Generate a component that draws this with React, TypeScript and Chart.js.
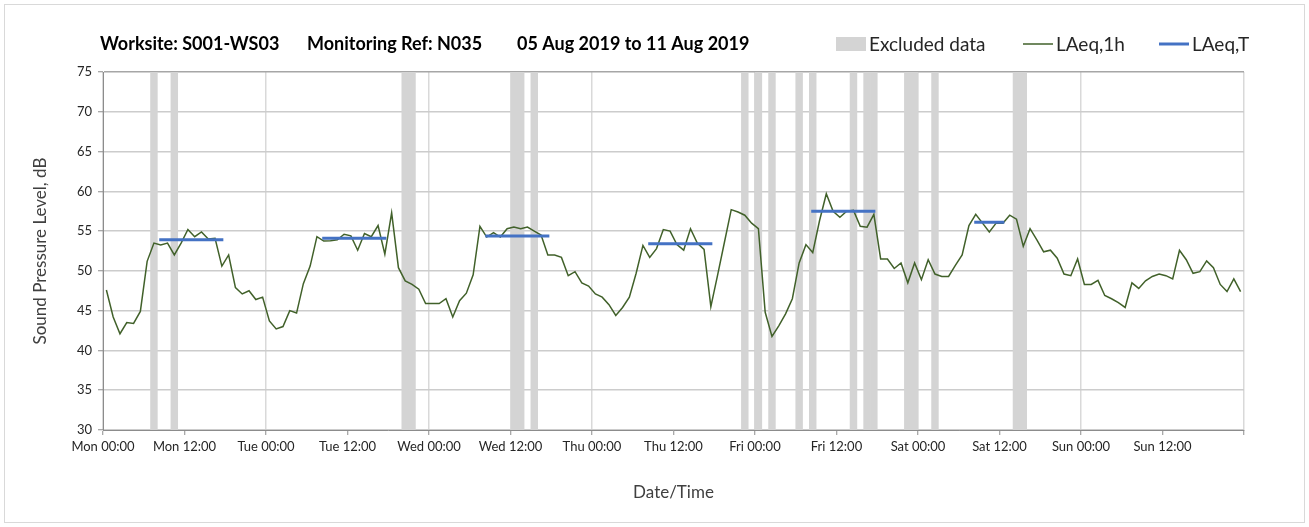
import React, { useEffect, useRef } from 'react';
import { Chart, registerables } from 'chart.js';

Chart.register(...registerables);

// ---- Data ----
const DAY_NAMES = ['Mon', 'Tue', 'Wed', 'Thu', 'Fri', 'Sat', 'Sun'];
const TICK_TIMES = ['00:00', '12:00'];

// Hourly LAeq,1h values (dB), one per hour of each day
const monLAeq1h = [47.6, 44.2, 42.1, 43.5, 43.4, 44.9, 51.2, 53.5, 53.25, 53.5, 52.0, 53.5, 55.2, 54.3, 54.9, 54.0, 54.1, 50.6, 52.0, 47.9, 47.1, 47.5, 46.4, 46.7];
const tueLAeq1h = [43.7, 42.7, 43.0, 45.0, 44.7, 48.4, 50.6, 54.3, 53.75, 53.8, 53.9, 54.6, 54.4, 52.6, 54.7, 54.3, 55.7, 52.1, 57.3, 50.4, 48.75, 48.3, 47.7, 45.9];
const wedLAeq1h = [45.9, 45.9, 46.5, 44.2, 46.25, 47.2, 49.5, 55.6, 54.25, 54.8, 54.25, 55.3, 55.5, 55.3, 55.5, 55.0, 54.5, 52.0, 52.0, 51.7, 49.4, 49.9, 48.5, 48.1];
const thuLAeq1h = [47.1, 46.7, 45.75, 44.4, 45.4, 46.7, 49.7, 53.2, 51.7, 52.8, 55.2, 55.0, 53.3, 52.6, 55.3, 53.5, 52.7, 45.5, 49.5, 53.6, 57.7, 57.4, 57.0, 56.0];
const friLAeq1h = [55.3, 44.8, 41.75, 43.1, 44.6, 46.5, 51.0, 53.3, 52.3, 56.3, 59.7, 57.5, 56.75, 57.5, 57.6, 55.6, 55.5, 57.1, 51.5, 51.5, 50.3, 51.0, 48.5, 51.0];
const satLAeq1h = [48.9, 51.4, 49.6, 49.3, 49.3, 50.7, 52.0, 55.7, 57.1, 56.0, 54.9, 56.0, 56.0, 57.0, 56.5, 53.1, 55.3, 53.9, 52.4, 52.6, 51.6, 49.6, 49.4, 51.5];
const sunLAeq1h = [48.3, 48.3, 48.8, 46.9, 46.5, 46.0, 45.4, 48.5, 47.8, 48.75, 49.3, 49.6, 49.4, 49.0, 52.6, 51.4, 49.7, 49.9, 51.25, 50.4, 48.3, 47.4, 49.0, 47.4];

// Excluded hours (hour index from Mon 00:00)
const excludedHours = [7, 10, 44, 45, 60, 61, 63, 94, 96, 98, 102, 104, 110, 112, 113, 118, 119, 122, 134, 135];

// LAeq,T periods: first and last hour index, level (dB)
const laeqTStartHour = [8, 32, 56, 80, 104, 128];
const laeqTEndHour = [17, 41, 65, 89, 113, 132];
const laeqTLevel = [53.9, 54.1, 54.4, 53.4, 57.5, 56.1];

const TITLE_PARTS = ['Worksite: S001-WS03', 'Monitoring Ref: N035', '05 Aug 2019 to 11 Aug 2019'];

// ---- Derived structures for the library ----
const allHourly = [...monLAeq1h, ...tueLAeq1h, ...wedLAeq1h, ...thuLAeq1h, ...friLAeq1h, ...satLAeq1h, ...sunLAeq1h];
const laeq1hPoints = allHourly.map((v, i) => ({ x: i + 0.5, y: v }));
const excludedPoints = excludedHours.map((h) => ({ x: h + 0.5, y: 75 }));
const laeqTPoints: { x: number; y: number | null }[] = [];
laeqTStartHour.forEach((s, i) => {
  laeqTPoints.push({ x: s + 0.5, y: laeqTLevel[i] });
  laeqTPoints.push({ x: laeqTEndHour[i] + 0.5, y: laeqTLevel[i] });
  laeqTPoints.push({ x: laeqTEndHour[i] + 1, y: null });
});

const FONT = 'Lato, "Open Sans", sans-serif';

const headerPlugin = {
  id: 'header',
  beforeDraw(chart: any) {
    const { ctx, width, height } = chart;
    ctx.save();
    ctx.fillStyle = '#ffffff';
    ctx.fillRect(0, 0, width, height);
    ctx.strokeStyle = '#d9d9d9';
    ctx.lineWidth = 1;
    ctx.strokeRect(4.5, 4.5, width - 9, height - 9);
    ctx.restore();
  },
  afterDraw(chart: any) {
    const { ctx, chartArea } = chart;
    ctx.save();
    ctx.textBaseline = 'middle';
    ctx.textAlign = 'left';
    ctx.fillStyle = '#000000';
    ctx.font = `bold 18px ${FONT}`;
    const titleOffsets = [0, 207, 417];
    TITLE_PARTS.forEach((t, i) => ctx.fillText(t, chartArea.left - 3 + titleOffsets[i], 44));

    // legend
    ctx.font = `19px ${FONT}`;
    const itemX = [836, 1023, 1159];
    const y = 44;
    const ds = chart.data.datasets;
    ds.forEach((d: any, di: number) => {
      const x = itemX[di];
      if (d.type === 'bar') {
        ctx.fillStyle = d.backgroundColor;
        ctx.fillRect(x, y - 7, 30, 14);
      } else {
        ctx.strokeStyle = d.borderColor;
        ctx.lineWidth = d.borderWidth;
        ctx.beginPath();
        ctx.moveTo(x, y);
        ctx.lineTo(x + 30, y);
        ctx.stroke();
      }
      ctx.fillStyle = '#262626';
      ctx.fillText(d.label, x + 33, y + 1);
    });
    ctx.restore();
  },
};

export default function App() {
  const ref = useRef<HTMLCanvasElement>(null);
  useEffect(() => {
    const canvas = ref.current;
    if (!canvas) return;
    Chart.defaults.font.family = FONT;
    const chart = new Chart(canvas, {
      type: 'line',
      data: {
        datasets: [
          {
            type: 'bar',
            label: 'Excluded data',
            data: excludedPoints as any,
            backgroundColor: '#d4d4d4',
            borderWidth: 0,
            barPercentage: 1,
            categoryPercentage: 1,
            order: 3,
          } as any,
          {
            type: 'line',
            label: 'LAeq,1h',
            data: laeq1hPoints as any,
            borderColor: '#41612A',
            backgroundColor: '#41612A',
            borderWidth: 1.5,
            pointRadius: 0,
            tension: 0,
            order: 2,
          },
          {
            type: 'line',
            label: 'LAeq,T',
            data: laeqTPoints as any,
            borderColor: '#4472C4',
            backgroundColor: '#4472C4',
            borderWidth: 3,
            borderCapStyle: 'square',
            pointRadius: 0,
            spanGaps: false,
            order: 1,
          },
        ],
      },
      options: {
        responsive: false,
        animation: false,
        layout: { padding: { top: 72, left: 26, right: 65, bottom: 20 } },
        plugins: {
          legend: { display: false },
          tooltip: { enabled: false },
          title: { display: false },
        },
        scales: {
          x: {
            type: 'linear',
            min: 0,
            max: 168,
            offset: false,
            ticks: {
              stepSize: 12,
              autoSkip: false,
              maxRotation: 0,
              minRotation: 0,
              padding: 4,
              color: '#262626',
              font: { size: 13 },
              callback: (v: any) => {
                const n = Number(v);
                if (n >= 168) return '';
                return DAY_NAMES[Math.floor(n / 24)] + ' ' + TICK_TIMES[(n % 24) / 12];
              },
            },
            grid: {
              offset: false,
              color: (c: any) => (c.tick && c.tick.value % 24 === 0 ? '#d9d9d9' : 'rgba(0,0,0,0)'),
              lineWidth: 1.5,
              tickColor: '#8c8c8c',
              tickLength: 5,
              tickWidth: 1,
            },
            border: { color: '#8c8c8c', width: 1 },
            title: {
              display: true,
              text: 'Date/Time',
              color: '#404040',
              font: { size: 17 },
              padding: { top: 4, bottom: 4 },
            },
            afterFit: (s: any) => {
              s.height = 77;
            },
          } as any,
          y: {
            min: 30,
            max: 75,
            ticks: { stepSize: 5, padding: 6, color: '#262626', font: { size: 13 } },
            grid: {
              color: (c: any) => (c.tick && c.tick.value === 75 ? '#a6a6a6' : '#cccccc'),
              lineWidth: 1.5,
              tickColor: '#8c8c8c',
              tickLength: 5,
              tickWidth: 1,
            },
            border: { color: '#8c8c8c', width: 1 },
            title: {
              display: true,
              text: 'Sound Pressure Level, dB',
              color: '#404040',
              font: { size: 17 },
              padding: { top: 4, bottom: 4 },
            },
            afterFit: (s: any) => {
              s.width = 77;
            },
          } as any,
        },
      },
      plugins: [headerPlugin],
    });
    return () => chart.destroy();
  }, []);

  return (
    <div style={{ position: 'fixed', left: 0, top: 0, width: 1309, height: 527, background: '#fff' }}>
      <canvas ref={ref} width={1309} height={527} style={{ display: 'block', width: 1309, height: 527 }} />
    </div>
  );
}
